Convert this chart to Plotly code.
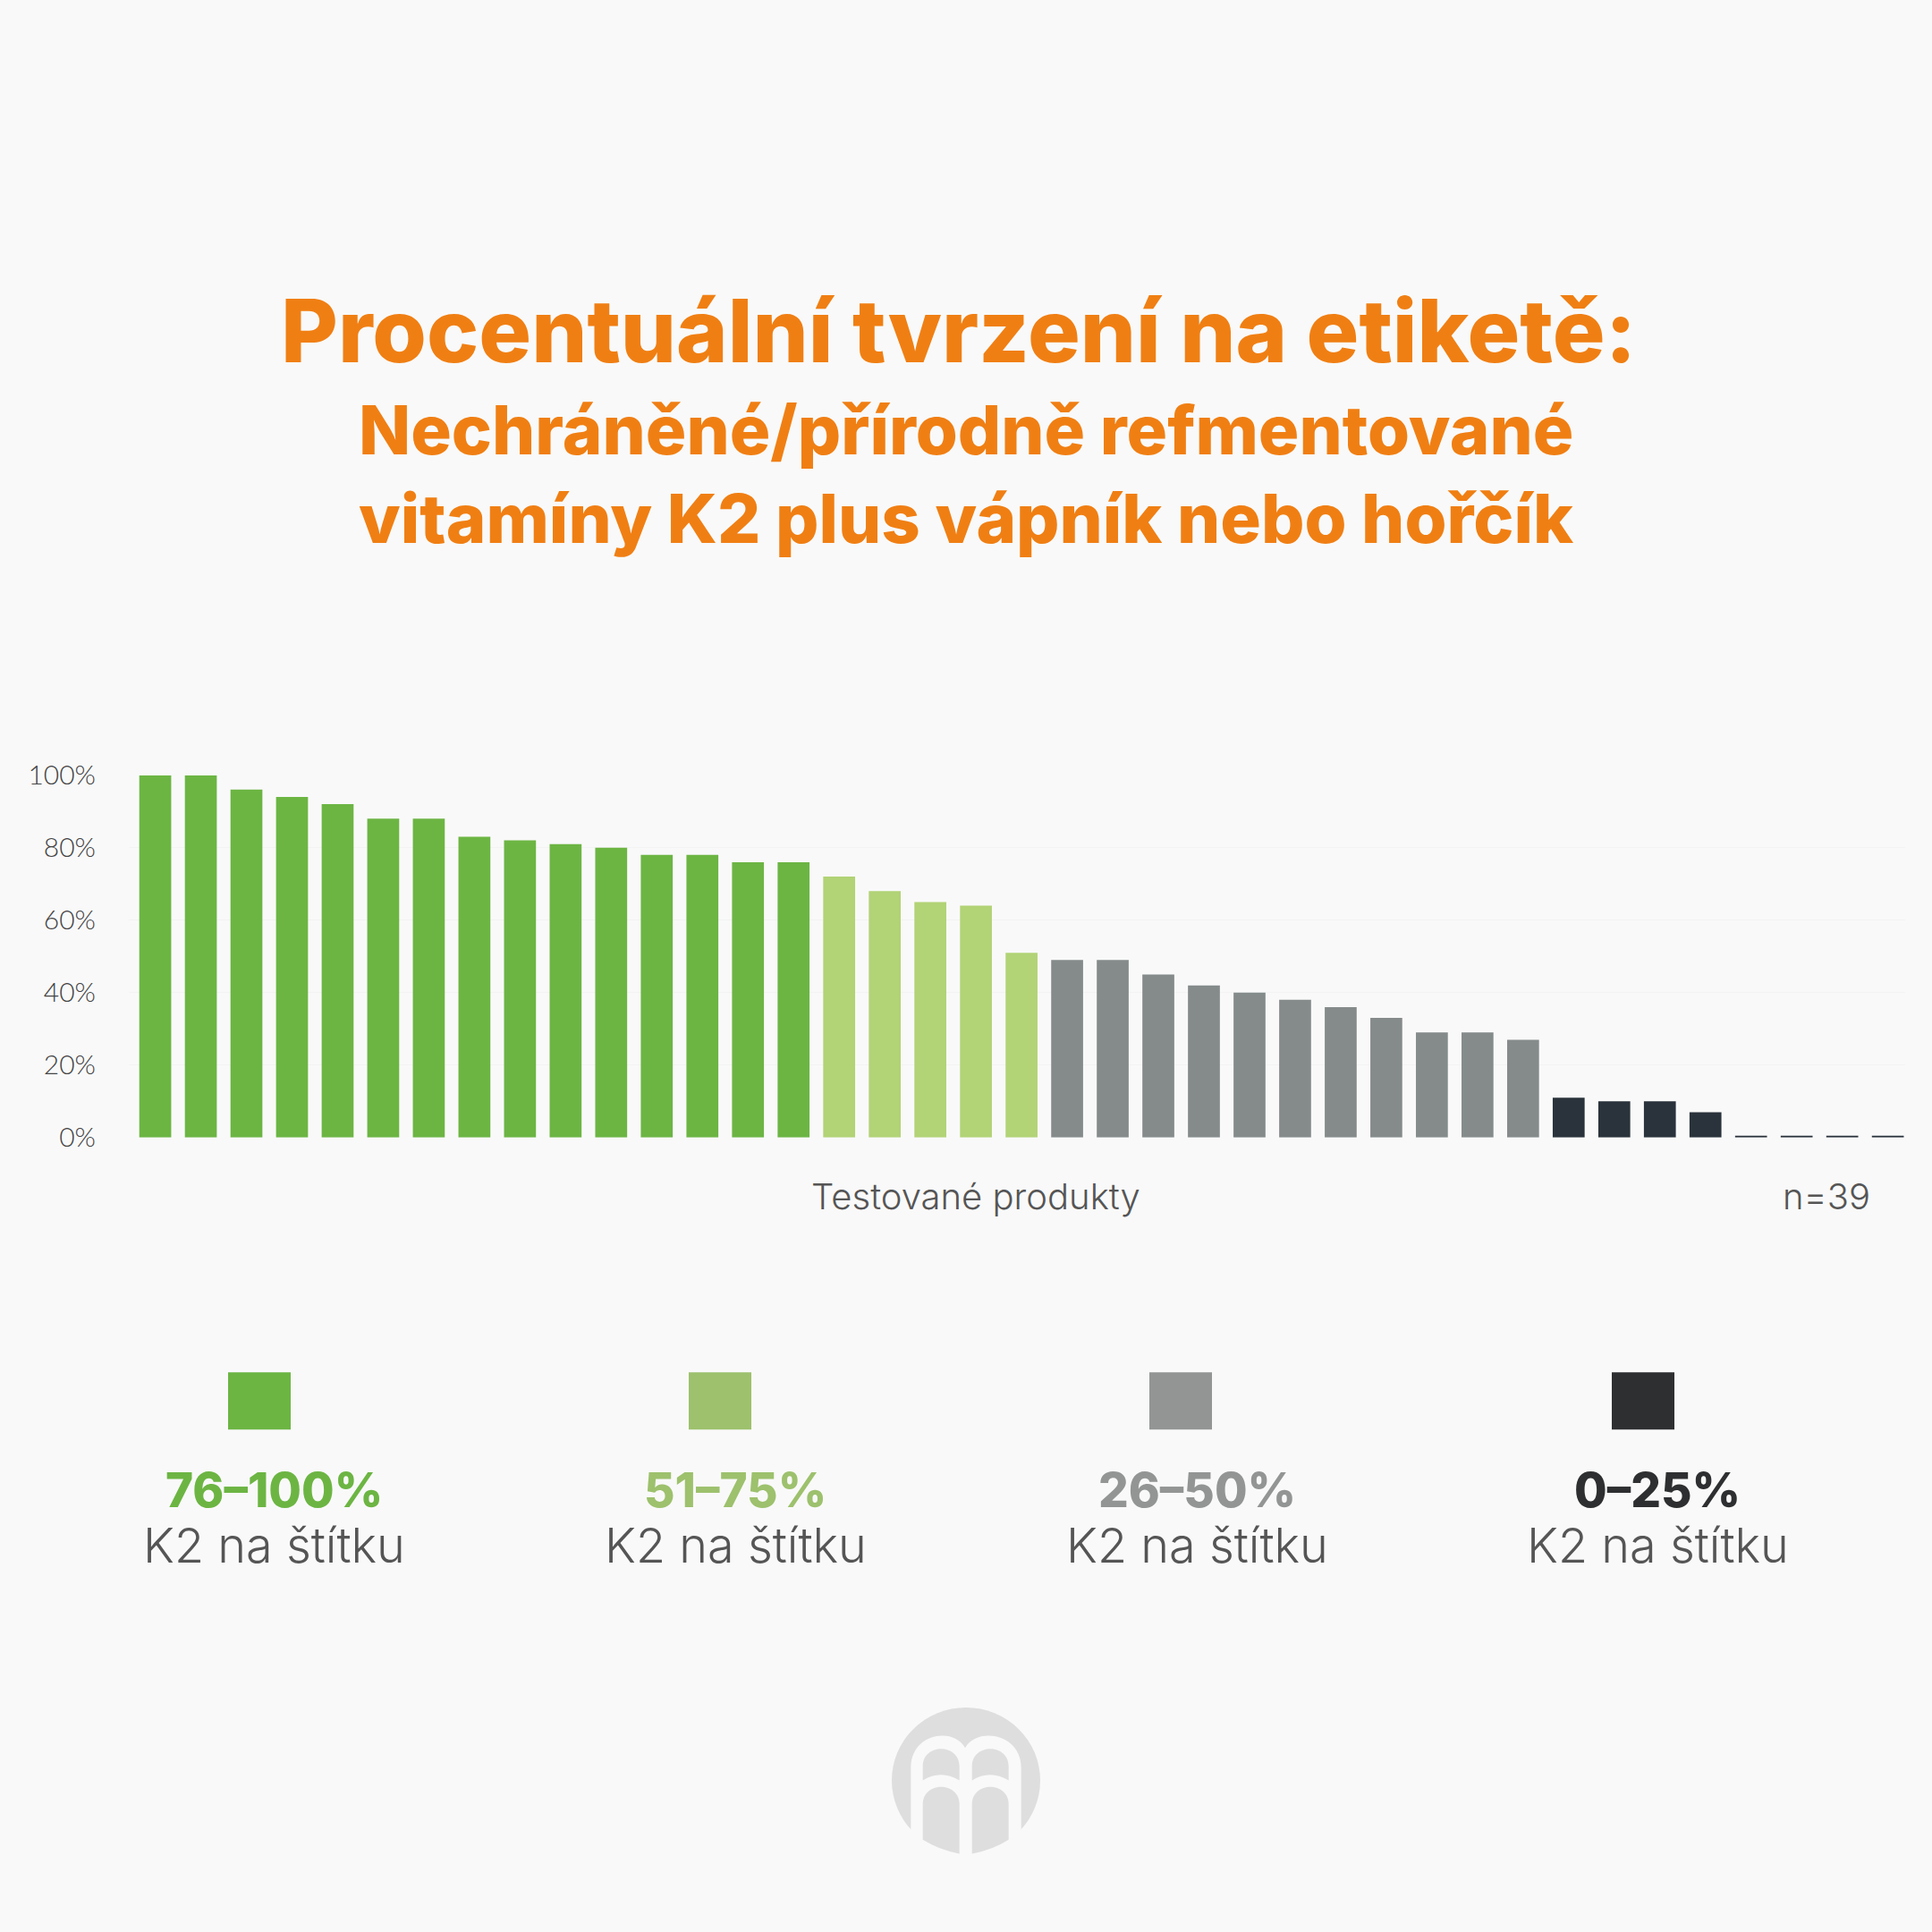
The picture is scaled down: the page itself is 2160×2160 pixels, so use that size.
"""Label claims chart: share of K2 on the label per tested product."""
import plotly.graph_objects as go

SIZE = 2160
BG = "#F9F9F9"
ORANGE = "#F07F13"
TEXT = "#555555"

title_main = "Procentuální tvrzení na etiketě:"
title_sub = ["Nechráněné/přírodně refmentované", "vitamíny K2 plus vápník nebo hořčík"]

values_high = [100, 100, 96, 94, 92, 88, 88, 83, 82, 81, 80, 78, 78, 76, 76]
values_mid = [72, 68, 65, 64, 51]
values_low = [49, 49, 45, 42, 40, 38, 36, 33, 29, 29, 27]
values_min = [11, 10, 10, 7, 0.5, 0.5, 0.5, 0.5]

tick_vals = [0, 20, 40, 60, 80, 100]
tick_text = ["0%", "20%", "40%", "60%", "80%", "100%"]

legend_ranges = ["76–100%", "51–75%", "26–50%", "0–25%"]
legend_label = "K2 na štítku"
legend_text_colors = ["#6CB543", "#9DC16D", "#939595", "#2E2F30"]
bar_colors = ["#6CB543", "#B2D376", "#858B8B", "#2A333B"]
legend_x = [290, 805, 1320, 1837]
legend_text_x = [306, 822, 1338, 1853]


def px(x):
    return x / SIZE


def py(y):
    return 1 - y / SIZE


def note(text, x, y, size, color, family="Inter", weight=400):
    return dict(text=text, x=px(x), y=py(y), xref="paper", yref="paper", showarrow=False,
                xanchor="center", yanchor="middle",
                font=dict(family=family, size=size, color=color, weight=weight))


def logo_path(points):
    # points are given in zoomed logo units (3 per pixel, from 960,1893)
    out = []
    for cmd, coords in points:
        vals = []
        for i in range(0, len(coords), 2):
            vals.append(f"{px(960 + coords[i] / 3):.5f},{py(1893 + coords[i + 1] / 3):.5f}")
        out.append(cmd + " ".join(vals))
    return " ".join(out) + " Z"


fig = go.Figure()
start = 0
for vals, color in zip([values_high, values_mid, values_low, values_min], bar_colors):
    fig.add_trace(go.Bar(x=list(range(start, start + len(vals))), y=vals,
                         marker=dict(color=color, line=dict(width=0)), showlegend=False))
    start += len(vals)

annotations = [
    note(title_main, 1071, 355, 98, ORANGE, weight=800),
    note(title_sub[0], 1080, 468, 76, ORANGE, weight=800),
    note(title_sub[1], 1080, 568, 76, ORANGE, weight=800),
    note("Testované produkty", 1091, 1340, 40, TEXT, weight=300),
    note("n=39", 2042, 1340, 40, TEXT, weight=300),
]
shapes = []
for i, rng in enumerate(legend_ranges):
    annotations.append(note(rng, legend_text_x[i], 1674, 53, legend_text_colors[i], weight=800))
    annotations.append(note(legend_label, legend_text_x[i], 1736, 54, TEXT, weight=300))
    shapes.append(dict(type="rect", xref="paper", yref="paper", line_width=0,
                       x0=px(legend_x[i] - 35), x1=px(legend_x[i] + 35),
                       y0=py(1540), y1=py(1605), fillcolor=legend_text_colors[i]))

# logo: grey disc, background "m", grey arches on top
LOGO = "#DEDEDE"
shapes.append(dict(type="circle", xref="paper", yref="paper", line_width=0, fillcolor=LOGO,
                   x0=px(997), x1=px(1163), y0=py(1921), y1=py(2087)))
m_shape = [("M", [175, 600]), ("L", [175, 290]), ("C", [175, 170, 320, 150, 357, 222]),
           ("C", [395, 150, 545, 170, 545, 290]), ("L", [545, 600]), ("L", [175, 600])]
arches = [
    [("M", [215, 333]), ("L", [215, 285]), ("C", [215, 205, 338, 205, 338, 285]),
     ("L", [338, 333]), ("Q", [275, 295, 215, 333])],
    [("M", [380, 333]), ("L", [380, 285]), ("C", [380, 205, 503, 205, 503, 285]),
     ("L", [503, 333]), ("Q", [440, 295, 380, 333])],
    [("M", [215, 535]), ("L", [215, 415]), ("C", [215, 335, 338, 335, 338, 415]),
     ("L", [338, 583]), ("Q", [270, 570, 215, 535])],
    [("M", [380, 583]), ("L", [380, 415]), ("C", [380, 335, 503, 335, 503, 415]),
     ("L", [503, 535]), ("Q", [450, 570, 380, 583])],
]
shapes.append(dict(type="path", xref="paper", yref="paper", line_width=0, fillcolor=BG,
                   path=logo_path(m_shape)))
for arch in arches:
    shapes.append(dict(type="path", xref="paper", yref="paper", line_width=0, fillcolor=LOGO,
                       path=logo_path(arch)))

fig.update_layout(
    width=SIZE, height=SIZE, autosize=False,
    margin=dict(l=0, r=0, t=0, b=0),
    paper_bgcolor=BG, plot_bgcolor=BG,
    bargap=0.3, barmode="overlay",
    annotations=annotations, shapes=shapes,
    xaxis=dict(domain=[px(144), px(2130)], range=[-0.58, 38.38], visible=False),
    yaxis=dict(domain=[py(1273), py(861)], range=[0, 100], tickmode="array", tickvals=tick_vals,
               ticktext=tick_text, showgrid=True, gridcolor="#F3F3F3", gridwidth=1, zeroline=False,
               showline=False, ticks="", ticklabelstandoff=36,
               tickfont=dict(family="Lato", size=30, color="#444444", weight=300)),
)

# the page's default body margin would push the figure off the canvas
fig.write_html("out.html", config=dict(displayModeBar=False),
               post_script="document.body.style.margin='0';document.body.style.background='#F9F9F9';")
